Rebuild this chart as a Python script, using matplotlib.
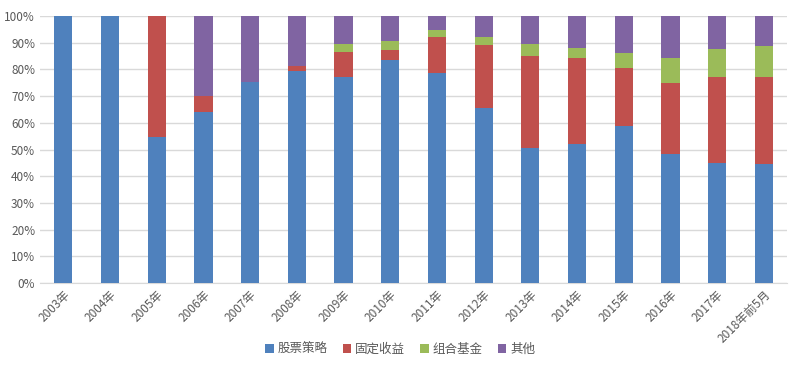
import numpy as np
import matplotlib
matplotlib.use('Agg')
import matplotlib.pyplot as plt
from matplotlib.ticker import PercentFormatter

plt.rcParams['font.family'] = ['Noto Sans CJK SC', 'DejaVu Sans']

# 年份
years = ['2003年', '2004年', '2005年', '2006年', '2007年', '2008年', '2009年', '2010年',
         '2011年', '2012年', '2013年', '2014年', '2015年', '2016年', '2017年', '2018年前5月']

# 各类策略占比 (%)
gupiao = [100, 100, 54.7, 64.1, 75.4, 79.6, 77.0, 83.6, 78.6, 65.4, 50.6, 52.0, 58.9, 48.4, 44.8, 44.6]
guding = [0, 0, 45.3, 5.8, 0, 1.8, 9.6, 3.6, 13.6, 23.7, 34.5, 32.4, 21.6, 26.4, 32.4, 32.4]
zuhe = [0, 0, 0, 0, 0, 0, 3.0, 3.5, 2.5, 3.1, 4.5, 3.6, 5.7, 9.6, 10.5, 11.7]
qita = [0, 0, 0, 30.1, 24.6, 18.6, 10.4, 9.3, 5.3, 7.8, 10.4, 12.0, 13.8, 15.6, 12.3, 11.3]

series = [('股票策略', gupiao, '#4F81BD'),
          ('固定收益', guding, '#C0504D'),
          ('组合基金', zuhe, '#9BBB59'),
          ('其他', qita, '#8064A2')]

fig = plt.figure(figsize=(8, 3.66), dpi=100)
ax = fig.add_axes([0.05, 0.227, 0.934, 0.729])

x = np.arange(len(years))
bottom = np.zeros(len(years))
for name, vals, color in series:
    vals = np.array(vals, dtype=float)
    ax.bar(x, vals, width=0.39, bottom=bottom, color=color, label=name, zorder=3)
    bottom += vals

ax.set_xlim(-0.5, len(years) - 0.5)
ax.set_ylim(0, 100)
ax.set_yticks(np.arange(0, 101, 10))
ax.yaxis.set_major_formatter(PercentFormatter(decimals=0))
ax.grid(axis='y', color='#D9D9D9', linewidth=1, zorder=0)
for s in ['top', 'right', 'left']:
    ax.spines[s].set_visible(False)
ax.spines['bottom'].set_color('#D9D9D9')
ax.tick_params(axis='both', length=0, labelsize=8.5, colors='#595959')
ax.set_xticks(x)
ax.set_xticklabels(years, rotation=45, ha='right', rotation_mode='anchor')

fig.legend(loc='center', bbox_to_anchor=(0.5, 0.045), ncol=4, frameon=False,
           fontsize=9, handlelength=0.7, handleheight=0.7, handletextpad=0.3,
           columnspacing=1.2, labelcolor='#595959')

fig.savefig('out.png', dpi=100)
